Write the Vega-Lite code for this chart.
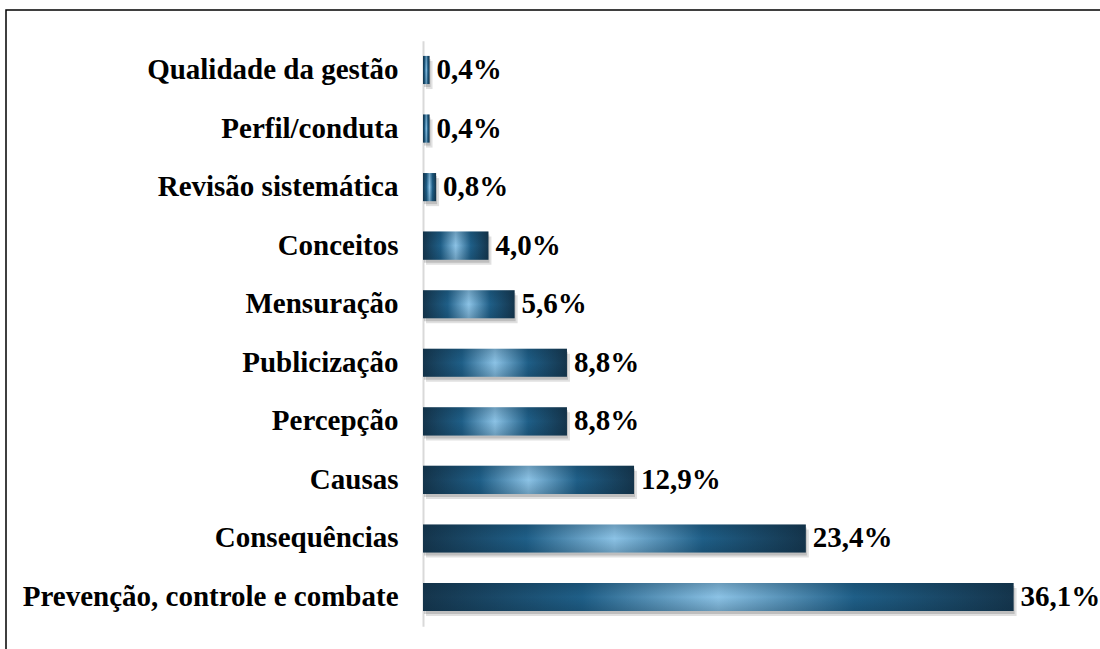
{
  "$schema": "https://vega.github.io/schema/vega-lite/v6.json",
  "width": 1100,
  "height": 645,
  "padding": {"left": 6, "top": 10, "right": 0, "bottom": 0},
  "autosize": {"type": "none"},
  "background": "white",
  "config": {
    "view": {"stroke": "black", "strokeWidth": 1.5},
    "font": "Liberation Serif"
  },
  "data": {
    "values": [
      {"cat": "Qualidade da gestão", "value": 0.4, "label": "0,4%"},
      {"cat": "Perfil/conduta", "value": 0.4, "label": "0,4%"},
      {"cat": "Revisão sistemática", "value": 0.8, "label": "0,8%"},
      {"cat": "Conceitos", "value": 4.0, "label": "4,0%"},
      {"cat": "Mensuração", "value": 5.6, "label": "5,6%"},
      {"cat": "Publicização", "value": 8.8, "label": "8,8%"},
      {"cat": "Percepção", "value": 8.8, "label": "8,8%"},
      {"cat": "Causas", "value": 12.9, "label": "12,9%"},
      {"cat": "Consequências", "value": 23.4, "label": "23,4%"},
      {"cat": "Prevenção, controle e combate", "value": 36.1, "label": "36,1%"}
    ]
  },
  "encoding": {
    "y": {
      "field": "cat",
      "type": "nominal",
      "sort": null,
      "title": null,
      "scale": {"range": [30.7, 616.3], "paddingInner": 0.52, "paddingOuter": 0.26},
      "axis": {
        "orient": "left",
        "offset": -417,
        "ticks": false,
        "domainColor": "#d9d9d9",
        "domainWidth": 2,
        "labelFont": "Liberation Serif",
        "labelFontWeight": "bold",
        "labelFontSize": 29,
        "labelColor": "black",
        "labelPadding": 25,
        "labelLimit": 500
      }
    },
    "x": {
      "field": "value",
      "type": "quantitative",
      "scale": {"domain": [0, 40], "range": [417, 1071.4], "nice": false},
      "axis": null
    }
  },
  "layer": [
    {
      "mark": {"type": "bar", "color": "#000000", "opacity": 0.12, "yOffset": 5, "y2Offset": 5, "x2Offset": 2, "xOffset": 3}
    },
    {
      "mark": {"type": "bar", "color": "#000000", "opacity": 0.15, "yOffset": 3, "y2Offset": 3, "x2Offset": 1, "xOffset": 1}
    },
    {
      "mark": {
        "type": "bar",
        "color": {
          "gradient": "linear",
          "x1": 0, "y1": 0, "x2": 1, "y2": 0,
          "stops": [
            {"offset": 0, "color": "#15354c"},
            {"offset": 0.27, "color": "#1f5f88"},
            {"offset": 0.5, "color": "#8cc3e6"},
            {"offset": 0.73, "color": "#1f5f88"},
            {"offset": 1, "color": "#15354c"}
          ]
        }
      }
    },
    {
      "mark": {
        "type": "bar",
        "color": {
          "gradient": "linear",
          "x1": 0, "y1": 0, "x2": 0, "y2": 1,
          "stops": [
            {"offset": 0, "color": "rgba(10,40,60,0.25)"},
            {"offset": 0.5, "color": "rgba(10,40,60,0)"},
            {"offset": 1, "color": "rgba(10,40,60,0.25)"}
          ]
        }
      }
    },
    {
      "mark": {"type": "text", "align": "left", "baseline": "middle", "dx": 7, "font": "Liberation Serif", "fontWeight": "bold", "fontSize": 29, "color": "black"},
      "encoding": {"text": {"field": "label"}}
    }
  ]
}
